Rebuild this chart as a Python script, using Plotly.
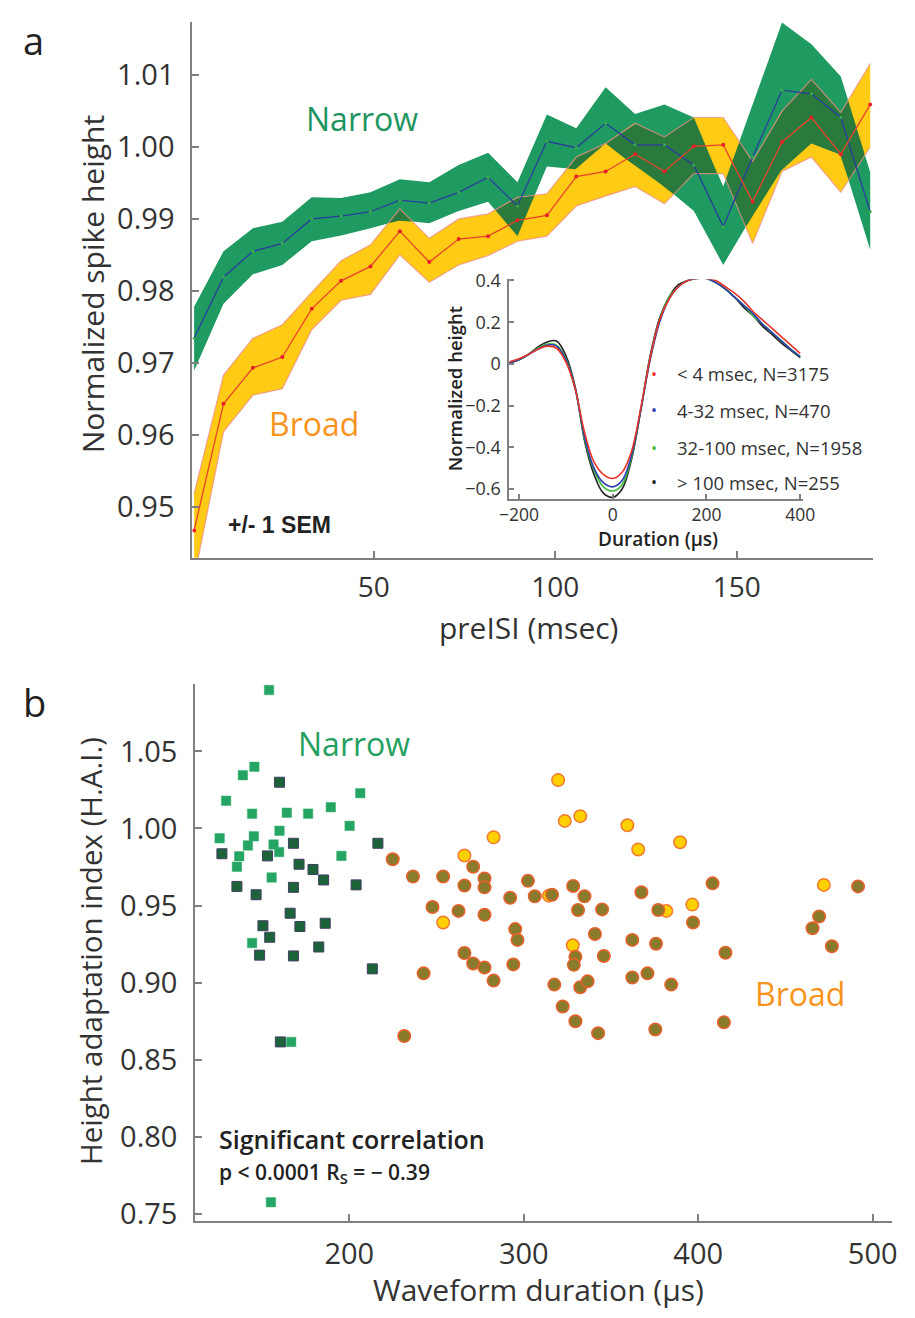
import numpy as np
import plotly.graph_objects as go

W, H = 915, 1318

# ---------------- Panel a data ----------------
preisi = [0.5, 8.6, 16.7, 24.8, 32.9, 41.0, 49.1, 57.2, 65.3, 73.4, 81.5, 89.6,
          97.7, 105.8, 113.9, 122.0, 130.1, 138.2, 146.3, 154.4, 162.5, 170.6, 178.7, 186.8]
narrow_mean = [0.9734, 0.9819, 0.9855, 0.9866, 0.9900, 0.9904, 0.9910, 0.9926, 0.9922, 0.9937,
               0.9958, 0.9918, 1.0008, 0.9999, 1.0033, 1.0003, 1.0003, 0.9975, 0.9889, 0.9986,
               1.0079, 1.0074, 1.0041, 0.9910]
narrow_hi = [0.9778, 0.9855, 0.9887, 0.9896, 0.9930, 0.9929, 0.9937, 0.9955, 0.9951, 0.9975,
             0.9992, 0.9951, 1.0045, 1.0026, 1.0083, 1.0046, 1.0059, 1.0041, 0.9945, 1.0060,
             1.0173, 1.0143, 1.0098, 0.9965]
narrow_lo = [0.9689, 0.9782, 0.9823, 0.9836, 0.9869, 0.9877, 0.9887, 0.9898, 0.9894, 0.9911,
             0.9924, 0.9876, 0.9973, 0.9969, 1.0005, 0.9973, 0.9945, 0.9911, 0.9836, 0.9905,
             0.9969, 1.0005, 0.9989, 0.9857]
broad_mean = [0.9467, 0.9643, 0.9693, 0.9708, 0.9775, 0.9814, 0.9834, 0.9883, 0.9840, 0.9872,
              0.9876, 0.9898, 0.9905, 0.9959, 0.9966, 0.9990, 0.9966, 1.0001, 1.0003, 0.9924,
              1.0007, 1.0041, 0.9990, 1.0059]
broad_hi = [0.9518, 0.9683, 0.9734, 0.9753, 0.9798, 0.9842, 0.9864, 0.9914, 0.9873, 0.9900,
            0.9907, 0.9930, 0.9935, 0.9986, 1.0005, 1.0033, 1.0014, 1.0041, 1.0041, 0.9980,
            1.0050, 1.0094, 1.0048, 1.0116]
broad_lo = [0.9400, 0.9604, 0.9655, 0.9664, 0.9746, 0.9787, 0.9795, 0.9850, 0.9812, 0.9836,
            0.9849, 0.9869, 0.9876, 0.9918, 0.9932, 0.9945, 0.9921, 0.9963, 0.9963, 0.9866,
            0.9966, 0.9986, 0.9937, 1.0000]

# ---------------- Inset data ----------------
wave_t = [-220, -200, -180, -160, -140, -120, -100, -80, -60, -40, -20, 0, 20, 40, 60, 80,
          100, 120, 140, 160, 180, 200, 220, 240, 260, 280, 300, 320, 340, 360, 380, 400]
wave_lt4 = [0.01, 0.025, 0.045, 0.07, 0.085, 0.075, 0.01, -0.12, -0.33, -0.47, -0.53, -0.55,
            -0.52, -0.42, -0.21, 0.03, 0.21, 0.31, 0.37, 0.40, 0.41, 0.41, 0.40, 0.37, 0.34,
            0.30, 0.25, 0.21, 0.17, 0.13, 0.09, 0.05]
wave_4_32 = [0.005, 0.02, 0.045, 0.07, 0.09, 0.085, 0.02, -0.12, -0.35, -0.50, -0.57, -0.59,
             -0.56, -0.44, -0.22, 0.02, 0.20, 0.31, 0.37, 0.40, 0.41, 0.41, 0.39, 0.36, 0.32,
             0.28, 0.24, 0.19, 0.15, 0.11, 0.07, 0.035]
wave_32_100 = [0.005, 0.02, 0.045, 0.075, 0.095, 0.09, 0.025, -0.12, -0.36, -0.51, -0.59, -0.61,
               -0.58, -0.45, -0.22, 0.03, 0.21, 0.32, 0.37, 0.40, 0.41, 0.41, 0.39, 0.36, 0.32,
               0.28, 0.23, 0.19, 0.15, 0.11, 0.07, 0.035]
wave_gt100 = [0.005, 0.02, 0.045, 0.08, 0.105, 0.11, 0.04, -0.11, -0.37, -0.53, -0.62, -0.64,
              -0.60, -0.46, -0.22, 0.04, 0.22, 0.32, 0.38, 0.40, 0.41, 0.41, 0.39, 0.36, 0.32,
              0.27, 0.23, 0.18, 0.14, 0.10, 0.065, 0.03]
inset_labels = ["&lt; 4 msec, N=3175", "4-32 msec, N=470", "32-100 msec, N=1958", "&gt; 100 msec, N=255"]

# ---------------- Panel b data ----------------
light_x = [154.0, 139.0, 145.6, 129.4, 144.3, 164.2, 176.4, 189.4, 206.3, 200.2, 125.7, 145.3,
           141.9, 136.9, 135.6, 160.0, 156.6, 159.8, 195.5, 155.5, 144.3, 166.7, 155.1]
light_y = [1.0898, 1.0346, 1.0400, 1.0180, 1.0096, 1.0102, 1.0096, 1.0138, 1.0229, 1.0017, 0.9936, 0.9949,
           0.9890, 0.9820, 0.9752, 0.9985, 0.9896, 0.9847, 0.9822, 0.9682, 0.9257, 0.8615, 0.7575]
dark_x = [160.0, 127.0, 153.1, 168.0, 216.4, 171.2, 179.2, 185.3, 203.9, 135.6, 146.6, 168.0,
          166.1, 150.5, 171.7, 186.2, 154.4, 148.6, 168.0, 182.5, 213.2, 160.5]
dark_y = [1.0300, 0.9836, 0.9822, 0.9904, 0.9904, 0.9768, 0.9734, 0.9666, 0.9634, 0.9624, 0.9570, 0.9618,
          0.9450, 0.9369, 0.9364, 0.9385, 0.9294, 0.9178, 0.9173, 0.9231, 0.9089, 0.8615]
yellow_x = [266.0, 253.8, 282.7, 319.7, 323.5, 332.4, 359.4, 365.6, 389.6, 472.0, 396.6, 381.7, 328.1, 314.4]
yellow_y = [0.9825, 0.9390, 0.9943, 1.0314, 1.0049, 1.0080, 1.0021, 0.9864, 0.9911, 0.9634, 0.9506, 0.9465,
            0.9242, 0.9564]
olive_x = [224.9, 236.5, 253.8, 271.0, 266.0, 277.5, 277.5, 302.4, 292.2, 306.3, 247.7, 262.6, 277.5,
           295.1, 296.4, 266.0, 271.0, 277.5, 294.0, 282.7, 242.6, 231.5, 316.2, 328.3, 334.8, 331.1,
           344.9, 367.4, 377.1, 408.2, 397.0, 491.6, 469.3, 465.5, 476.6, 340.8, 362.2, 375.8, 345.9,
           329.6, 328.7, 415.6, 317.5, 332.4, 336.6, 362.2, 370.9, 384.5, 322.3, 329.6, 342.6, 375.4, 414.7]
olive_y = [0.9800, 0.9688, 0.9688, 0.9752, 0.9630, 0.9676, 0.9618, 0.9660, 0.9550, 0.9560, 0.9490, 0.9465,
           0.9440, 0.9347, 0.9277, 0.9192, 0.9124, 0.9098, 0.9118, 0.9013, 0.9060, 0.8653, 0.9570, 0.9627,
           0.9560, 0.9471, 0.9475, 0.9586, 0.9471, 0.9644, 0.9390, 0.9624, 0.9429, 0.9353, 0.9236, 0.9315,
           0.9277, 0.9252, 0.9173, 0.9167, 0.9115, 0.9194, 0.8987, 0.8970, 0.9008, 0.9033, 0.9060, 0.8987,
           0.8845, 0.8749, 0.8672, 0.8696, 0.8742]

a_yticks = [0.95, 0.96, 0.97, 0.98, 0.99, 1.00, 1.01]
a_xticks = [50, 100, 150]
b_yticks = [0.75, 0.80, 0.85, 0.90, 0.95, 1.00, 1.05]
b_xticks = [200, 300, 400, 500]
in_xticks = [-200, 0, 200, 400]
in_xtext = ["\u2212200", "0", "200", "400"]
in_yticks = [-0.6, -0.4, -0.2, 0, 0.2, 0.4]
in_ytext = ["\u22120.6", "\u22120.4", "\u22120.2", "0", "0.2", "0.4"]

# ---------------- helpers ----------------
def px(x):
    return x / W


def py(y):
    return 1 - y / H


GREEN = "#1f9a60"
YELLOW = "#ffcb14"
OVER = "#2a7a3e"
AXC = "#808080"
TXT = "#333333"
FONT = "Open Sans"

fig = go.Figure()

# Panel a bands
fig.add_trace(go.Scatter(x=preisi + preisi[::-1], y=narrow_hi + narrow_lo[::-1], fill="toself",
                         fillcolor=GREEN, line=dict(width=0), mode="lines", hoverinfo="skip",
                         xaxis="x", yaxis="y"))
fig.add_trace(go.Scatter(x=preisi + preisi[::-1], y=broad_hi + broad_lo[::-1], fill="toself",
                         fillcolor=YELLOW, line=dict(width=0), mode="lines", hoverinfo="skip",
                         xaxis="x", yaxis="y"))

# overlap region of the two bands (derived from the band arrays)
xa = np.array(preisi)
dense = np.concatenate([np.linspace(xa[i], xa[i + 1], 40, endpoint=False) for i in range(len(xa) - 1)] + [xa[-1:]])
lo = np.maximum(np.interp(dense, xa, narrow_lo), np.interp(dense, xa, broad_lo))
hi = np.minimum(np.interp(dense, xa, narrow_hi), np.interp(dense, xa, broad_hi))
mask = hi > lo
segs = []
start = None
for k, m in enumerate(mask):
    if m and start is None:
        start = k
    if (not m) and start is not None:
        segs.append((start, k))
        start = None
if start is not None:
    segs.append((start, len(mask)))
for s, e in segs:
    xs = dense[s:e]
    fig.add_trace(go.Scatter(x=list(xs) + list(xs[::-1]), y=list(hi[s:e]) + list(lo[s:e][::-1]),
                             fill="toself", fillcolor=OVER, line=dict(width=0), mode="lines",
                             hoverinfo="skip", xaxis="x", yaxis="y"))

# yellow band edges
for edge in (broad_hi, broad_lo):
    fig.add_trace(go.Scatter(x=preisi, y=edge, mode="lines",
                             line=dict(color="rgba(235,140,140,0.75)", width=1.2),
                             hoverinfo="skip", xaxis="x", yaxis="y"))

fig.add_trace(go.Scatter(x=preisi, y=narrow_mean, mode="lines+markers",
                         line=dict(color="#2a3d9c", width=1.3),
                         marker=dict(color="#39b04a", size=3), xaxis="x", yaxis="y"))
fig.add_trace(go.Scatter(x=preisi, y=broad_mean, mode="lines+markers",
                         line=dict(color="#e8452a", width=1.3),
                         marker=dict(color="#e8202a", size=4), xaxis="x", yaxis="y"))

# Inset waveforms
for ys, col in ((wave_gt100, "#222222"), (wave_32_100, "#3dbb3d"), (wave_4_32, "#2b3fb0"), (wave_lt4, "#e8352a")):
    fig.add_trace(go.Scatter(x=wave_t, y=ys, mode="lines", line=dict(color=col, width=1.6, shape="spline"),
                             xaxis="x2", yaxis="y2"))

# Panel b scatter
fig.add_trace(go.Scatter(x=dark_x, y=dark_y, mode="markers", xaxis="x3", yaxis="y3",
                         marker=dict(symbol="square", size=10, color="#1c633a",
                                     line=dict(color="#3f3f62", width=1))))
fig.add_trace(go.Scatter(x=light_x, y=light_y, mode="markers", xaxis="x3", yaxis="y3",
                         marker=dict(symbol="square", size=9.5, color="#25a563",
                                     line=dict(color="#3cb070", width=0.5))))
fig.add_trace(go.Scatter(x=yellow_x, y=yellow_y, mode="markers", xaxis="x3", yaxis="y3",
                         marker=dict(symbol="circle", size=12.5, color="#ffd000",
                                     line=dict(color="#f07a30", width=1.5))))
fig.add_trace(go.Scatter(x=olive_x, y=olive_y, mode="markers", xaxis="x3", yaxis="y3",
                         marker=dict(symbol="circle", size=12.5, color="#8a7b2c",
                                     line=dict(color="#e8602a", width=1.5))))


def axis_common(**kw):
    d = dict(showline=True, linecolor=AXC, linewidth=2, ticks="inside", ticklen=7,
             tickcolor=AXC, tickwidth=1.5, showgrid=False, zeroline=False,
             tickfont=dict(family=FONT, size=29, color=TXT), fixedrange=True)
    d.update(kw)
    return d


layout = dict(
    width=W, height=H, autosize=False, margin=dict(l=0, r=0, t=0, b=0),
    paper_bgcolor="white", plot_bgcolor="rgba(0,0,0,0)", showlegend=False,
    xaxis=axis_common(domain=[px(187), px(885)], range=[0, 187.5], tickvals=a_xticks,
                      anchor="y", ticklabelstandoff=4,
                      tickfont=dict(family=FONT, size=28, color=TXT)),
    yaxis=axis_common(domain=[py(555), py(10)], range=[0.9429, 1.0174], tickvals=a_yticks,
                      tickformat=".2f", anchor="x", ticklabelstandoff=10),
    xaxis2=axis_common(domain=[px(512), px(813)], range=[-221, 405], tickvals=in_xticks,
                       ticktext=in_xtext, anchor="y2", ticklen=5, linewidth=1.5,
                       tickfont=dict(family=FONT, size=17.5, color=TXT), ticklabelstandoff=0),
    yaxis2=axis_common(domain=[py(495), py(272)], range=[-0.647, 0.405], tickvals=in_yticks,
                       ticktext=in_ytext, anchor="x2", ticklen=5, linewidth=1.5,
                       tickfont=dict(family=FONT, size=18, color=TXT), ticklabelstandoff=3),
    xaxis3=axis_common(domain=[px(190), px(905)], range=[111.7, 511.2], tickvals=b_xticks,
                       anchor="y3", ticklabelstandoff=6),
    yaxis3=axis_common(domain=[py(1230), py(683)], range=[0.745, 1.094], tickvals=b_yticks,
                       tickformat=".2f", anchor="x3", ticklabelstandoff=10),
)

ann = []


def add_text(text, x, y, size, color=TXT, angle=0, weight=400, family=FONT, xanchor="center"):
    ann.append(dict(text=text, x=px(x), y=py(y), xref="paper", yref="paper", showarrow=False,
                    xanchor=xanchor, yanchor="middle", textangle=angle,
                    font=dict(family=family, size=size, color=color, weight=weight)))


add_text("a", 24, 28, 38, color="#222222")
add_text("b", 25, 702, 38, color="#222222")
add_text("Normalized spike height", 84, 277, 30, angle=-90)
add_text("preISI (msec)", 532, 626, 30)
add_text("Narrow", 361, 108, 32, color="#1e9460")
add_text("Broad", 312, 418, 32, color="#f7941d")
add_text("+/- 1 SEM", 276, 522, 23, color="#222222", weight=600, family="Liberation Sans")
add_text("Normalized height", 456, 383, 18.5, angle=-90, weight=600, color="#222222")
add_text("Duration (\u00b5s)", 665, 536, 19, weight=600, color="#222222")
dot_cols = ["#e8352a", "#2b3fb0", "#3dbb3d", "#222222"]
rows = [368, 405, 443, 478]
for lab, col, yy in zip(inset_labels, dot_cols, rows):
    add_text("\u2022", 661, yy, 16, color=col)
    add_text(lab, 682, yy, 18.5, xanchor="left")

add_text("Height adaptation index (H.A.I.)", 82, 955, 29.5, angle=-90)
add_text("Waveform duration (\u00b5s)", 542, 1299, 30)
add_text("Narrow", 353, 744, 32, color="#25a060")
add_text("Broad", 810, 998, 32, color="#f7941d")
add_text("Significant correlation", 212, 1146, 25, color="#222222", weight=600, xanchor="left")
add_text("p &lt; 0.0001 R<sub>S</sub> = \u2212 0.39", 212, 1181, 21, color="#222222", weight=600, xanchor="left")

layout["annotations"] = ann
fig.update_layout(**layout)
fig.write_html("out.html")
